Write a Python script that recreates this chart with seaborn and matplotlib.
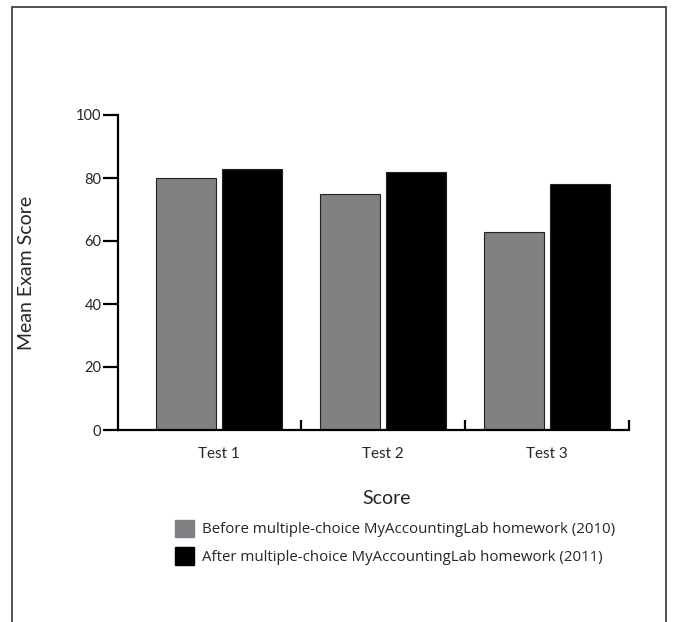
import matplotlib
matplotlib.use("Agg")
import matplotlib.pyplot as plt
import matplotlib.patches as mpatches
import seaborn as sns
import pandas as pd

# data
tests = ["Test 1", "Test 2", "Test 3"]
before_2010 = [80, 75, 63]
after_2011 = [83, 82, 78]
series_names = [
    "Before multiple-choice MyAccountingLab homework (2010)",
    "After multiple-choice MyAccountingLab homework (2011)",
]
colors = ["#808184", "#000000"]
y_ticks = [0, 20, 40, 60, 80, 100]

df = pd.DataFrame({
    "test": tests * 2,
    "group": [series_names[0]] * 3 + [series_names[1]] * 3,
    "score": before_2010 + after_2011,
})

sns.set_style("white")
plt.rcParams["font.family"] = ["Lato", "DejaVu Sans"]

fig = plt.figure(figsize=(6.76, 6.22), dpi=100)
ax = fig.add_axes([118 / 676, 1 - 430 / 622, (629 - 118) / 676, (430 - 115) / 622])

sns.barplot(data=df, x="test", y="score", hue="group", order=tests,
            hue_order=series_names, palette=colors, width=0.8, gap=0.09,
            edgecolor="#222222", linewidth=0.8, ax=ax, legend=False)

ax.set_ylim(0, 100)
ax.set_xlim(-0.615, 2.5)
ax.set_yticks(y_ticks)
ax.set_yticklabels([str(t) for t in y_ticks], fontsize=10.5)
ax.tick_params(axis="y", left=True, direction="out", length=11, width=1.6, pad=1, color="black")
ax.tick_params(axis="x", which="major", bottom=False, length=0, pad=12, labelsize=11)
ax.set_xticks([0.5, 1.5, 2.5], minor=True)
ax.tick_params(axis="x", which="minor", bottom=True, direction="in", length=7, width=1.6, color="black")

for s in ["top", "right"]:
    ax.spines[s].set_visible(False)
for s in ["left", "bottom"]:
    ax.spines[s].set_linewidth(1.6)
    ax.spines[s].set_color("black")

ax.set_ylabel("Mean Exam Score", fontsize=14)
ax.yaxis.set_label_coords(-(118 - 35) / (629 - 118), 0.5)
ax.set_xlabel("Score", fontsize=14)
ax.xaxis.set_label_coords((387 - 118) / (629 - 118), -(490 - 430) / (430 - 115))

handles = [mpatches.Patch(facecolor=c, edgecolor=c) for c in colors]
fig.legend(handles, series_names, loc="upper left",
           bbox_to_anchor=(161 / 676, 1 - 506 / 622), frameon=False,
           handlelength=1.3, handleheight=1.45, handletextpad=0.5,
           labelspacing=0.65, prop={"family": ["Open Sans", "DejaVu Sans"], "size": 10.8})

# outer frame around the figure (bottom edge cut off in the reference)
fig.patches.append(mpatches.Rectangle((12 / 676, -0.05), (666 - 12) / 676, 1.05 - 7 / 622,
                                      transform=fig.transFigure, fill=False,
                                      edgecolor="#333333", linewidth=1.2))

fig.savefig("out.png", dpi=100)
